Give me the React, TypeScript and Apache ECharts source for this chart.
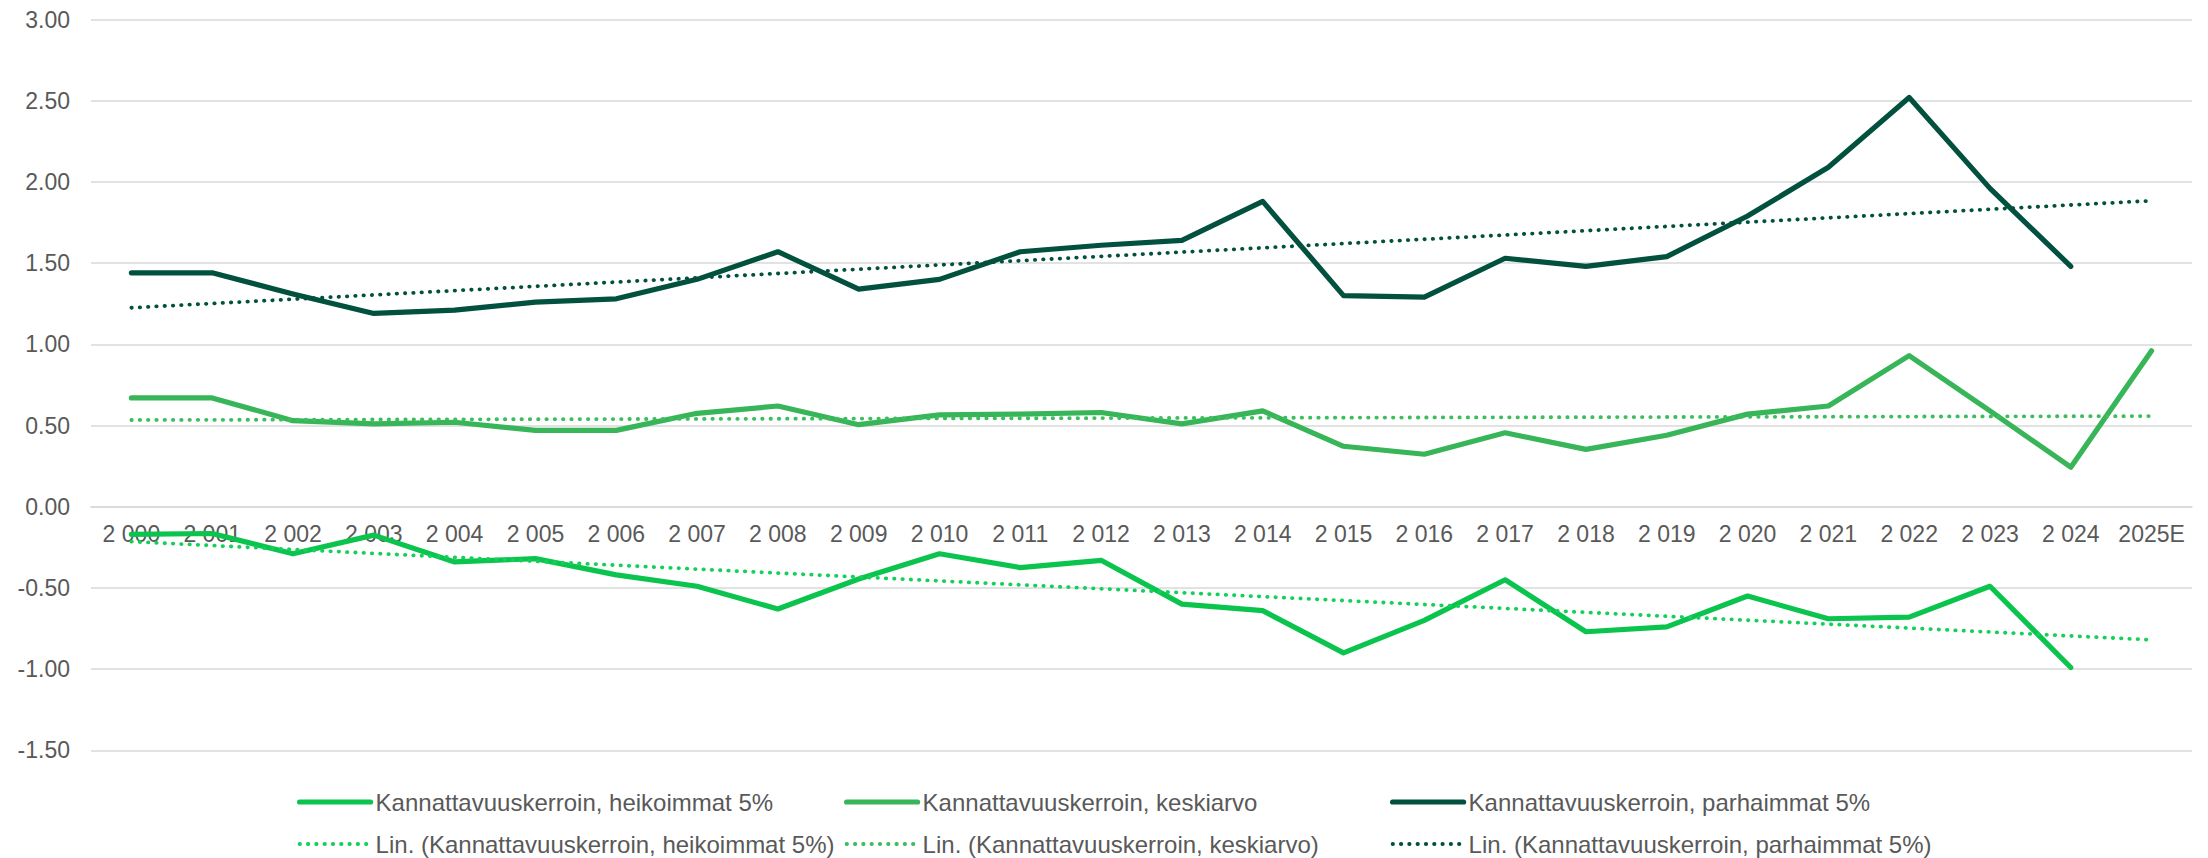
import React, { useEffect, useRef } from "react";
import * as echarts from "echarts";

const categories = [
  "2 000", "2 001", "2 002", "2 003", "2 004", "2 005", "2 006", "2 007", "2 008", "2 009",
  "2 010", "2 011", "2 012", "2 013", "2 014", "2 015", "2 016", "2 017", "2 018", "2 019",
  "2 020", "2 021", "2 022", "2 023", "2 024", "2025E",
];

const heikoimmat = [
  -0.17, -0.165, -0.29, -0.175, -0.34, -0.32, -0.42, -0.49, -0.63, -0.445,
  -0.29, -0.375, -0.33, -0.6, -0.64, -0.9, -0.7, -0.45, -0.77, -0.74,
  -0.55, -0.69, -0.68, -0.49, -0.99, null,
];

const keskiarvo = [
  0.67, 0.67, 0.53, 0.51, 0.52, 0.47, 0.47, 0.575, 0.62, 0.505,
  0.565, 0.57, 0.58, 0.51, 0.59, 0.372, 0.323, 0.455, 0.353, 0.44,
  0.57, 0.62, 0.93, 0.59, 0.243, 0.96,
];

const parhaimmat = [
  1.44, 1.44, 1.31, 1.19, 1.21, 1.26, 1.28, 1.4, 1.57, 1.34,
  1.4, 1.57, 1.61, 1.64, 1.88, 1.3, 1.29, 1.53, 1.48, 1.54,
  1.79, 2.09, 2.52, 1.96, 1.48, null,
];

// Trend line end points (first and last category)
const trendHeikoimmatEnds = [-0.215, -0.82];
const trendKeskiarvoEnds = [0.534, 0.558];
const trendParhaimmatEnds = [1.225, 1.884];

const yTicks = { min: -1.5, max: 3, interval: 0.5 };

const names = {
  heik: "Kannattavuuskerroin, heikoimmat 5%",
  kesk: "Kannattavuuskerroin, keskiarvo",
  parh: "Kannattavuuskerroin, parhaimmat 5%",
  tHeik: "Lin. (Kannattavuuskerroin, heikoimmat 5%)",
  tKesk: "Lin. (Kannattavuuskerroin, keskiarvo)",
  tParh: "Lin. (Kannattavuuskerroin, parhaimmat 5%)",
};

function trendData(ends: number[]) {
  return categories.map((_, i) =>
    i === 0 ? ends[0] : i === categories.length - 1 ? ends[1] : null
  );
}

const FONT = "'Liberation Sans', Arial, sans-serif";
const TEXT_COLOR = "#595959";
const AXIS_FS = 23;
const LEGEND_FS = 24;

const GRID = { left: 91, right: 16, top: 19.5, bottom: 107.7 };
const CHART_H = 858;

export default function App() {
  const ref = useRef<HTMLDivElement>(null);

  useEffect(() => {
    if (!ref.current) return;
    const chart = echarts.init(ref.current, undefined, { renderer: "svg" });

    const gridH = CHART_H - GRID.top - GRID.bottom;
    // move the category axis up to the zero line of the value axis
    const zeroOffset = -gridH * ((0 - yTicks.min) / (yTicks.max - yTicks.min));

    const solid = (color: string) => ({
      type: "line",
      symbol: "none",
      lineStyle: { color, width: 5.2, cap: "round", join: "round" },
      itemStyle: { color },
    });
    const dotted = (color: string) => ({
      type: "line",
      symbol: "none",
      connectNulls: true,
      lineStyle: { color, width: 3.8, type: [0.4, 7.9], cap: "round" },
      itemStyle: { color },
    });

    const legendBase = {
      orient: "vertical",
      top: 789,
      itemWidth: 71,
      itemHeight: 14,
      itemGap: 16,
      padding: 0,
      selectedMode: false,
      itemStyle: { opacity: 0 },
      lineStyle: { width: "inherit" },
      textStyle: { fontSize: LEGEND_FS, color: TEXT_COLOR, fontFamily: FONT, lineHeight: 26 },
    };

    chart.setOption({
      animation: false,
      backgroundColor: "#ffffff",
      grid: { ...GRID, containLabel: false },
      legend: [
        { ...legendBase, left: 297, data: [names.heik, names.tHeik] },
        { ...legendBase, left: 844, data: [names.kesk, names.tKesk] },
        { ...legendBase, left: 1390, data: [names.parh, names.tParh] },
      ],
      xAxis: {
        type: "category",
        data: categories,
        boundaryGap: true,
        offset: zeroOffset,
        axisLine: { show: true, onZero: false, lineStyle: { color: "#D9D9D9", width: 1.6 } },
        axisTick: { show: false },
        axisLabel: {
          interval: 0,
          margin: 16,
          fontSize: AXIS_FS,
          color: TEXT_COLOR,
          fontFamily: FONT,
        },
      },
      yAxis: {
        type: "value",
        min: yTicks.min,
        max: yTicks.max,
        interval: yTicks.interval,
        axisLine: { show: false },
        axisTick: { show: false },
        splitLine: { lineStyle: { color: "#D9D9D9", width: 1.6 } },
        axisLabel: {
          margin: 21,
          fontSize: AXIS_FS,
          color: TEXT_COLOR,
          fontFamily: FONT,
          formatter: (v: number) => v.toFixed(2),
        },
      },
      series: [
        { ...solid("#0BC44E"), name: names.heik, data: heikoimmat },
        { ...solid("#38B558"), name: names.kesk, data: keskiarvo },
        { ...solid("#02513F"), name: names.parh, data: parhaimmat },
        { ...dotted("#14D05A"), name: names.tHeik, data: trendData(trendHeikoimmatEnds) },
        { ...dotted("#3CBD5E"), name: names.tKesk, data: trendData(trendKeskiarvoEnds) },
        { ...dotted("#02513F"), name: names.tParh, data: trendData(trendParhaimmatEnds) },
      ],
    });

    return () => chart.dispose();
  }, []);

  return (
    <div
      ref={ref}
      style={{ position: "absolute", left: 0, top: 0, width: 2208, height: 858 }}
    />
  );
}
